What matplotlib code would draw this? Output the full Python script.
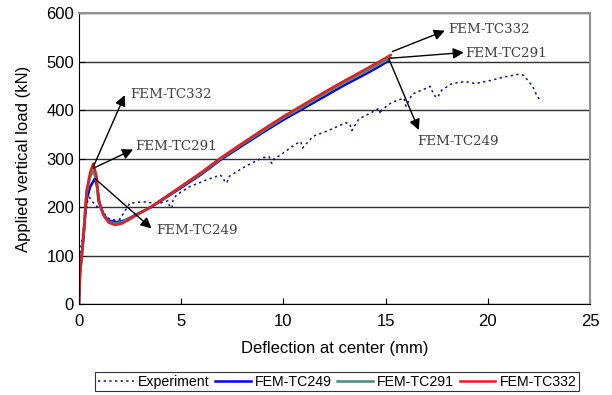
import matplotlib
matplotlib.use("Agg")
import matplotlib.pyplot as plt

plt.rcParams['font.family'] = ['Liberation Sans', 'DejaVu Sans']

# experiment
exp_x = [0, 0.03, 0.1, 0.2, 0.29, 0.38, 0.45, 0.52, 0.62, 0.8, 1.0, 1.19, 1.35,
         1.6, 2.0, 2.25, 2.49, 3.14, 3.5, 3.95, 4.35, 4.45, 4.55, 4.6, 4.77,
         5.41, 6.23, 6.9, 7.05, 7.15, 7.25, 7.37, 8.18, 9.0, 9.3, 9.4, 9.45,
         9.55, 9.8, 10.6, 10.85, 10.95, 11.0, 11.45, 12.2, 13.05, 13.25, 13.35,
         13.4, 13.7, 14.35, 14.68, 14.75, 14.8, 15.3, 15.9, 16.0, 16.05, 16.3,
         16.8, 17.2, 17.35, 17.45, 17.55, 17.65, 17.76, 18.26, 18.9, 19.4,
         20.2, 20.86, 21.5, 21.76, 21.95, 22.2, 22.4, 22.6]
exp_y = [0, 60, 118, 150, 173, 200, 218, 220, 213, 205, 197, 190, 180,
         173, 175, 192, 208, 211, 209, 208, 213, 200, 198, 214, 225,
         242, 256, 266, 262, 250, 252, 264, 285, 302, 304, 292, 290,
         300, 306, 330, 335, 322, 325, 346, 358, 374, 372, 358,
         362, 382, 396, 404, 392, 400, 416, 425, 408, 412, 433,
         442, 449, 432, 428, 426, 435, 442, 455, 459, 455,
         462, 469, 474, 472, 462, 449, 430, 418]

fem_x = [0, 0.05, 0.2, 0.37, 0.55, 0.70, 0.87, 0.95, 1.2, 1.45, 1.77, 2.1,
         2.45, 3.0, 3.5, 4.2, 5.0, 6.0, 6.88, 8.0, 9.0, 10.0, 11.0, 12.0,
         13.0, 14.0, 14.68, 15.25]
tc249_x = [0, 0.05, 0.2, 0.37, 0.55, 0.78, 0.9, 1.0, 1.2, 1.45, 1.84, 2.2,
           2.5, 3.0, 3.5, 4.2, 5.0, 6.0, 6.88, 8.0, 9.0, 10.0, 11.0, 12.0,
           13.0, 14.0, 14.68, 15.15]
tc249_y = [0, 60, 125, 215, 242, 259, 240, 210, 185, 172, 169, 172,
           178, 189, 199, 218, 240, 268, 296, 327, 354, 380, 404, 428,
           452, 474, 490, 502]
tc291_y = [0, 62, 130, 228, 262, 276, 252, 212, 184, 170, 166, 169,
           176, 188, 200, 219, 242, 270, 298, 330, 357, 384, 408, 433,
           457, 479, 495, 508]
tc332_y = [0, 63, 132, 234, 272, 290, 262, 215, 183, 168, 163, 166,
           174, 188, 200, 220, 243, 272, 300, 332, 360, 387, 412, 437,
           461, 484, 500, 514]

fig = plt.figure(figsize=(6.12, 3.95), dpi=100)
ax = fig.add_axes([0.129, 0.2304, 0.835, 0.736])

ax.plot(exp_x, exp_y, linestyle=(0, (1.5, 2.2)), color='#101080', lw=1.1,
        label='Experiment')
ax.plot(tc249_x, tc249_y, color='#0000ff', lw=1.8, label='FEM-TC249')
ax.plot(fem_x, tc291_y, color='#4a8a7a', lw=1.8, label='FEM-TC291')
ax.plot(fem_x, tc332_y, color='#e02020', lw=1.8, label='FEM-TC332')

ax.set_xlim(0, 25)
ax.set_ylim(0, 600)
ax.set_xticks(range(0, 26, 5))
ax.set_yticks(range(0, 601, 100))
ax.yaxis.grid(True, color='#303030', lw=1)
ax.set_axisbelow(True)
ax.tick_params(direction='in', labelsize=12, length=4)
ax.tick_params(axis='x', pad=7)
for s in ['top', 'right']:
    ax.spines[s].set_color('#909090')
    ax.spines[s].set_linewidth(1.5)
ax.set_xlabel('Deflection at center (mm)', fontsize=12)
ax.set_ylabel('Applied vertical load (kN)', fontsize=12)
ax.xaxis.set_label_coords(0.5, -0.128)
ax.yaxis.set_label_coords(-0.094, 0.5)

arr = dict(arrowstyle='-|>', color='black', lw=1, mutation_scale=16,
           shrinkA=0, shrinkB=0)
tkw = dict(fontsize=9.6, color='#404040', family='DejaVu Serif',
           va='center', ha='left')
notes = [('FEM-TC332', (0.70, 283), (2.24, 431), (2.49, 433)),
         ('FEM-TC291', (0.70, 280), (2.65, 319), (2.75, 326)),
         ('FEM-TC249', (0.78, 259), (3.55, 156), (3.79, 151)),
         ('FEM-TC332', (15.33, 521), (17.9, 564), (18.05, 567)),
         ('FEM-TC291', (15.17, 507), (18.83, 519), (18.9, 517)),
         ('FEM-TC249', (15.17, 505), (16.63, 359), (16.55, 336))]
for txt, start, tip, pos in notes:
    ax.annotate('', xy=tip, xytext=start, arrowprops=arr)
    ax.text(pos[0], pos[1], txt, **tkw)

leg = fig.legend(loc='center', bbox_to_anchor=(0.551, 0.034), ncol=4,
                 fontsize=10.2, frameon=True, fancybox=False, edgecolor='black',
                 handlelength=2.5, columnspacing=0.4, handletextpad=0.3,
                 borderpad=0.2, borderaxespad=0)
leg.get_frame().set_linewidth(0.8)

fig.savefig('out.png', dpi=100)
